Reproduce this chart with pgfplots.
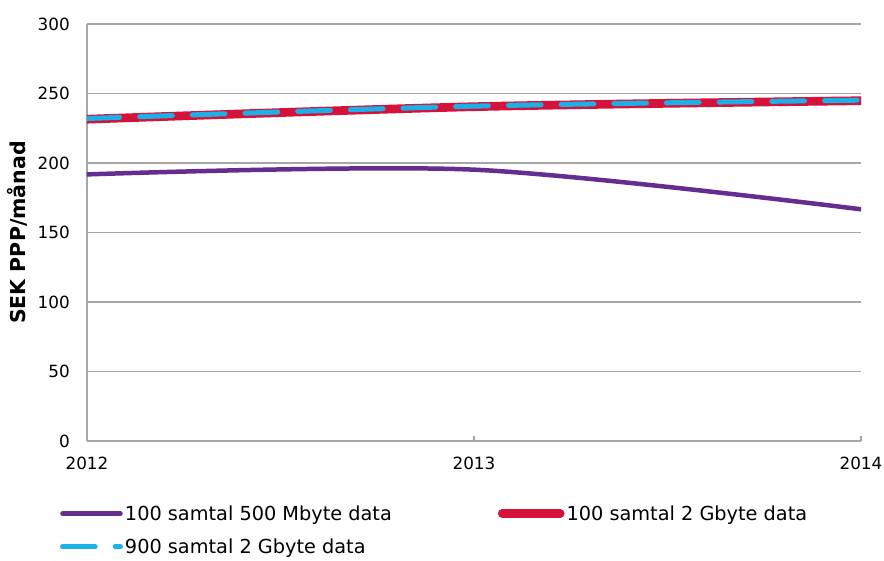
\documentclass[border=0pt]{standalone}
\usepackage{pgfplots}
\pgfplotsset{compat=1.18}
\usetikzlibrary{calc}
\usepackage{fontspec}
\setmainfont{DejaVu Sans}
\definecolor{cpurple}{HTML}{662D91}
\definecolor{cred}{HTML}{D5133A}
\definecolor{cblue}{HTML}{1BB1E6}
\definecolor{cgrid}{HTML}{A6A6A6}
\begin{document}
\begin{tikzpicture}
\begin{axis}[
  name=ax,
  scale only axis,
  width=774bp, height=417bp,
  xmin=2012, xmax=2014, ymin=0, ymax=300,
  xtick={2012,2013,2014},
  xticklabels={2012,2013,2014},
  ytick={0,50,100,150,200,250,300},
  axis x line*=bottom, axis y line*=left,
  axis line style={cgrid, line width=1.3bp, -},
  ymajorgrids,
  grid style={cgrid, line width=1.3bp},
  tick align=inside,
  major tick length=5bp,
  xtick style={cgrid, line width=1.3bp},
  ytick style={draw=none},
  /pgf/number format/assume math mode=true,
  tick label style={font=\fontsize{16.8bp}{19bp}\selectfont, text=black, inner sep=0pt},
  xticklabel shift=16bp,
  yticklabel shift=17bp,
  ylabel={SEK PPP/månad},
  every axis y label/.style={at={(axis description cs:-0.0904,0.5)}, rotate=90, anchor=center,
    font=\fontsize{20.5bp}{24bp}\selectfont\bfseries},
  legend columns=2,
  legend cell align=left,
  legend style={draw=none, fill=none, at={(axis description cs:-0.0349,-0.150)}, anchor=north west,
    inner sep=0pt, outer sep=0pt,
    font=\fontsize{19.3bp}{23bp}\selectfont,
    nodes={inner sep=2bp},
    row sep=13bp,
    /tikz/every even column/.append style={column sep=104bp}},
  legend image code/.code={\draw[#1] (0bp,0bp) -- (58bp,0bp);},
]
\addplot[cpurple, line width=4.5bp, smooth, line cap=round] coordinates {
  (2012,191.8) (2013,195.2) (2014,166.7)};
\addlegendentry{100 samtal 500 Mbyte data}
\addplot[cred, line width=8.7bp, smooth, line cap=round] coordinates {
  (2012,231.5) (2013,240.5) (2014,244.8)};
\addlegendentry{100 samtal 2 Gbyte data}
\addplot[cblue, line width=5bp, smooth, line cap=round, dash pattern=on 32.7bp off 20bp] coordinates {
  (2012,232.0) (2013,240.9) (2014,245.2)};
\addlegendentry{900 samtal 2 Gbyte data}
\end{axis}
\pgfresetboundingbox
\path[use as bounding box] ($(ax.south west)+(-87bp,-120bp)$) rectangle ($(ax.north east)+(23bp,24bp)$);
\end{tikzpicture}
\end{document}
